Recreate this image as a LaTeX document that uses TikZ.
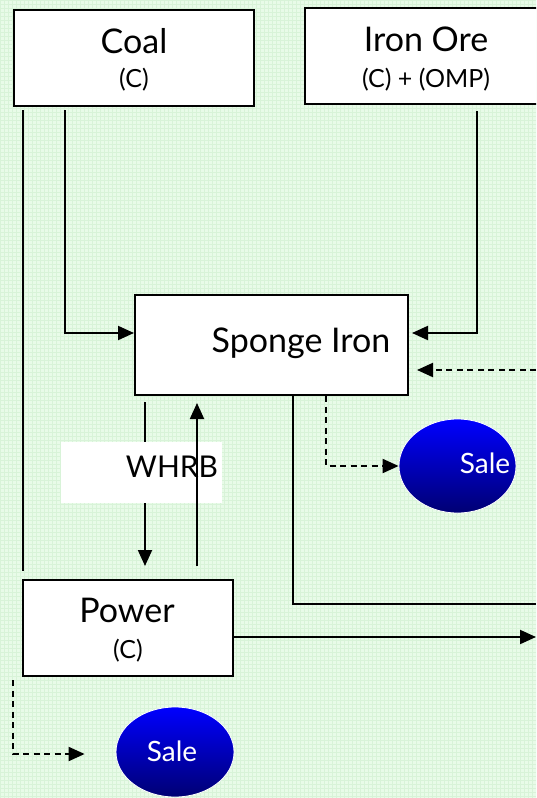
\documentclass[tikz,border=0pt]{standalone}
\usepackage{fontspec}
\setmainfont{Lato}
\usetikzlibrary{arrows.meta,shapes.geometric}
\definecolor{bggreen}{RGB}{232,251,232}
\definecolor{gridgreen}{RGB}{216,243,216}
\definecolor{saletop}{RGB}{0,0,255}
\definecolor{salebot}{RGB}{0,0,115}
\tikzset{
  box/.style={draw=black, line width=2pt, fill=white, rectangle, inner sep=0pt},
  bigtxt/.style={font=\fontsize{34}{36}\selectfont, anchor=base, inner sep=0pt},
  smalltxt/.style={font=\fontsize{25}{27}\selectfont, anchor=base, inner sep=0pt},
  whrbtxt/.style={font=\fontsize{30}{32}\selectfont, anchor=base, inner sep=0pt},
  saletxt/.style={font=\fontsize{28}{30}\selectfont, text=white, anchor=base, inner sep=0pt},
  sale/.style={ellipse, draw=white, line width=0.8pt, top color=saletop, bottom color=salebot, inner sep=0pt},
  conn/.style={line width=2pt},
  arr/.style={conn, -{Triangle[length=16pt,width=14pt]}},
  darr/.style={arr, dash pattern=on 6pt off 4.5pt},
  dline/.style={conn, dash pattern=on 6pt off 4.5pt},
}
\begin{document}
\begin{tikzpicture}[x=1pt,y=-1pt]
\useasboundingbox (0,0) rectangle (536,798);
\clip (0,0) rectangle (536,798);
\fill[bggreen] (0,0) rectangle (536,798);
\draw[gridgreen, line width=0.4pt, step=4pt] (0,0) grid (536,798);

% boxes
\node[box, minimum width=240pt, minimum height=96pt] (coal) at (134,58) {};
\node[bigtxt] (coalt) at (134,53) {Coal};
\node[smalltxt] (coalc) at (134,87) {(C)};

\node[box, minimum width=242pt, minimum height=96pt] (iron) at (426,56) {};
\node[bigtxt] (iront) at (426,51) {Iron Ore};
\node[smalltxt] (ironc) at (426,87) {(C) + (OMP)};

\node[box, minimum width=273pt, minimum height=100pt] (sponge) at (271.5,345) {};
\node[bigtxt] (sponget) at (301,352) {Sponge Iron};

\node[box, minimum width=210pt, minimum height=96pt] (power) at (128,628) {};
\node[bigtxt] (powert) at (127,622) {Power};
\node[smalltxt] (powerc) at (128,658) {(C)};

\node[sale, minimum width=117pt, minimum height=94pt] (sale1) at (457.5,466) {};
\node[saletxt] (sale1t) at (485,473) {Sale};
\node[sale, minimum width=118pt, minimum height=90pt] (sale2) at (175,752) {};
\node[saletxt] (sale2t) at (172,761) {Sale};

\coordinate (rin) at (536,370);
\coordinate (rout) at (536,604);
\coordinate (pout) at (536,637);
\coordinate (pd) at (13,680);

% connectors
\draw[arr, shorten <=3pt] (coal.south -| 65,0) |- (sponge.west |- 0,333);
\draw[conn, shorten <=3pt, shorten >=8pt] (coal.south -| 23,0) -- (power.north -| 23,0);
\draw[arr, shorten <=6pt, shorten >=3pt] (iron.south -| 477,0) |- (sponge.east |- 0,333);
\draw[darr, shorten >=8pt] (rin) -- (sponge.east |- rin);
\draw[darr] (sponge.south -| 326,0) |- (sale1.west);
\draw[conn] (sponge.south -| 293,0) |- (rout);
\draw[arr] (power.east |- pout) -- (pout);
\draw[darr, shorten >=31pt] (pd) |- (sale2.west |- 0,754);

% WHRB
\draw[arr, shorten <=6pt, shorten >=13pt] (sponge.south -| 145,0) -- (power.north -| 145,0);
\node[fill=white, minimum width=161pt, minimum height=61pt, inner sep=0pt] (whrb) at (141.5,472.5) {};
\node[whrbtxt] (whrbt) at (172,477) {WHRB};
\draw[arr, shorten <=13pt, shorten >=7pt] (power.north -| 197,0) -- (sponge.south -| 197,0);
\end{tikzpicture}
\end{document}
